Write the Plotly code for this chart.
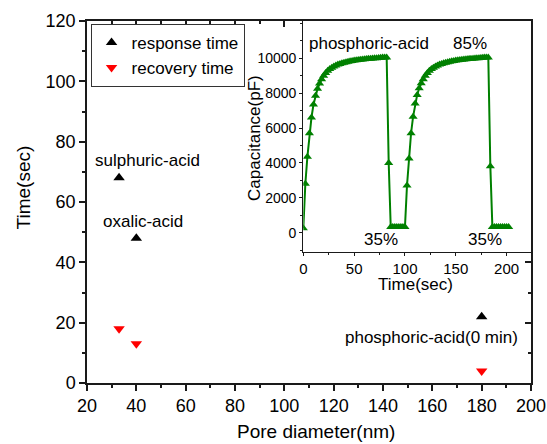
import plotly.graph_objects as go

# Main chart data
pore_diameter = [33, 40, 180]
response_time = [68, 48, 22]
recovery_time = [18, 13, 4]
labels = ["sulphuric-acid", "oxalic-acid", "phosphoric-acid(0 min)"]
label_x = [44.7, 42.8, 159.6]
label_y = [73.7, 53.5, 15.0]

# Inset data (capacitance vs time)
inset_time = [0, 2, 4, 6, 8, 10, 12, 14, 16, 18, 20, 22, 24, 26, 28, 30, 32, 34, 36, 38,
              40, 42, 44, 46, 48, 50, 52, 54, 56, 58, 60, 62, 64, 66, 68, 70, 72, 74, 76, 78,
              80, 82, 84, 86, 88, 90, 92, 94, 96, 98, 100,
              102, 104, 106, 108, 110, 112, 114, 116, 118, 120, 122, 124, 126, 128, 130, 132,
              134, 136, 138, 140, 142, 144, 146, 148, 150, 152, 154, 156, 158, 160, 162, 164,
              166, 168, 170, 172, 174, 176, 178, 180, 182, 184, 186, 188, 190, 192, 194, 196,
              198, 200, 202]
inset_cap = [250, 2800, 4350, 5700, 6600, 7350, 7850, 8250, 8550, 8800, 9000, 9150, 9280, 9380,
             9460, 9530, 9590, 9640, 9680, 9720, 9750, 9780, 9800, 9830, 9850, 9870, 9890, 9900,
             9920, 9930, 9950, 9960, 9970, 9980, 9990, 10000, 10010, 10020, 10030, 10040, 10050,
             10050, 4000, 320, 320, 320, 320, 320, 320, 320, 320,
             2700, 4250, 5700, 6650, 7400, 7900, 8280, 8570, 8800, 9000, 9150, 9280, 9380, 9460,
             9530, 9590, 9640, 9680, 9720, 9750, 9780, 9800, 9830, 9850, 9870, 9890, 9900, 9920,
             9930, 9950, 9960, 9970, 9980, 9990, 10000, 10010, 10020, 10030, 10040, 10050, 10050,
             3800, 320, 320, 320, 320, 320, 320, 320, 320, 320]

FONT = "Liberation Sans, Arial, sans-serif"
AX = "#1a1a1a"

fig = go.Figure()
fig.add_trace(go.Scatter(x=pore_diameter, y=response_time, mode="markers", name="response time",
                         marker=dict(symbol="triangle-up", size=10, color="black"),
                         xaxis="x", yaxis="y"))
fig.add_trace(go.Scatter(x=pore_diameter, y=recovery_time, mode="markers", name="recovery time",
                         marker=dict(symbol="triangle-down", size=10, color="#ff0000"),
                         xaxis="x", yaxis="y"))
fig.add_trace(go.Scatter(x=inset_time, y=inset_cap, mode="lines+markers", showlegend=False,
                         line=dict(color="#008000", width=2),
                         marker=dict(symbol="triangle-up", size=8, color="#008000"),
                         xaxis="x2", yaxis="y2"))
# empty trace to anchor mirrored inner-tick axes
fig.add_trace(go.Scatter(x=[], y=[], showlegend=False, xaxis="x3", yaxis="y3", hoverinfo="skip"))

annotations = []
for t, x, y in zip(labels, label_x, label_y):
    annotations.append(dict(x=x, y=y, xref="x", yref="y", text=t, showarrow=False,
                            font=dict(size=17, color="black", family=FONT)))
inset_texts = [("phosphoric-acid", 64.6, 10860), ("85%", 164, 10860),
               ("35%", 76.4, -420), ("35%", 178.7, -420)]
for t, x, y in inset_texts:
    annotations.append(dict(x=x, y=y, xref="x2", yref="y2", text=t, showarrow=False,
                            font=dict(size=17, color="black", family=FONT)))

# axis titles
axis_titles = [
    ("Pore diameter(nm)", 0.516, -0.1344, 0, 19),
    ("Time(sec)", -0.1441, 0.5404, -90, 19),
    ("Time(sec)", 0.7394, 0.272, 0, 17),
    ("Capacitance(pF)", 0.3784, 0.677, -90, 17),
]
for t, x, y, ang, fs in axis_titles:
    annotations.append(dict(x=x, y=y, xref="paper", yref="paper", text=t, showarrow=False,
                            textangle=ang, xanchor="center", yanchor="middle",
                            font=dict(size=fs, color="black", family=FONT)))

main_axis = dict(showgrid=False, zeroline=False, showline=True, linecolor=AX, linewidth=1.5,
                 ticks="outside", ticklen=6, tickwidth=1.5, tickcolor=AX, automargin=False,
                 tickfont=dict(size=18, color="black", family=FONT))

fig.update_layout(
    width=547, height=444,
    margin=dict(l=87, r=16, t=21, b=61, autoexpand=False),
    paper_bgcolor="white", plot_bgcolor="white",
    font=dict(family=FONT, color="black"),
    showlegend=True,
    legend=dict(x=0.008, y=0.992, xanchor="left", yanchor="top",
                bordercolor="#333", borderwidth=1, bgcolor="white",
                font=dict(size=17, color="black", family=FONT),
                tracegroupgap=0, itemwidth=30),
    xaxis=dict(main_axis, range=[20, 200], dtick=20, tick0=20, anchor="y", domain=[0, 1],
               minor=dict(dtick=10, ticklen=3, ticks="outside", tickcolor=AX, tickwidth=1.5)),
    yaxis=dict(main_axis, range=[0, 120], dtick=20, anchor="x", domain=[0, 1],
               minor=dict(dtick=10, ticklen=3, ticks="outside", tickcolor=AX, tickwidth=1.5)),
    xaxis3=dict(overlaying="x", side="top", anchor="y", range=[20, 200], dtick=20, tick0=20,
                showgrid=False, zeroline=False, showline=True, linecolor=AX, linewidth=1.5,
                ticks="inside", ticklen=6, tickwidth=1.5, tickcolor=AX, showticklabels=False,
                automargin=False,
                minor=dict(dtick=10, ticklen=3, ticks="inside", tickcolor=AX, tickwidth=1.5)),
    yaxis3=dict(overlaying="y", side="right", anchor="x", range=[0, 120], dtick=20,
                showgrid=False, zeroline=False, showline=True, linecolor=AX, linewidth=1.5,
                ticks="inside", ticklen=6, tickwidth=1.5, tickcolor=AX, showticklabels=False,
                automargin=False,
                minor=dict(dtick=10, ticklen=3, ticks="inside", tickcolor=AX, tickwidth=1.5)),
    xaxis2=dict(domain=[0.4872, 1.0], anchor="y2", range=[0, 224], dtick=50, tick0=0,
                showgrid=False, zeroline=False, showline=True, linecolor=AX, linewidth=1.2,
                ticks="outside", ticklen=3, tickwidth=1.2, tickcolor=AX, automargin=False,
                tickfont=dict(size=15, color="black", family=FONT),
                minor=dict(dtick=25, ticklen=2, ticks="outside", tickcolor=AX, tickwidth=1.2)),
    yaxis2=dict(domain=[0.363, 1.0], anchor="x2", range=[-1090, 12140],
                tickvals=[0, 2000, 4000, 6000, 8000, 10000], tickformat="d",
                showgrid=False, zeroline=False, showline=True, linecolor=AX, linewidth=1.2,
                ticks="outside", ticklen=3, tickwidth=1.2, tickcolor=AX, automargin=False,
                tickfont=dict(size=14, color="black", family=FONT),
                minor=dict(dtick=1000, ticklen=2, ticks="outside", tickcolor=AX, tickwidth=1.2)),
    annotations=annotations,
)

# remove the default page margin so the 547x444 figure fills the window exactly
fig.write_html("out.html", config={"displayModeBar": False},
               post_script="document.body.style.margin='0px';document.body.style.overflow='hidden';")
